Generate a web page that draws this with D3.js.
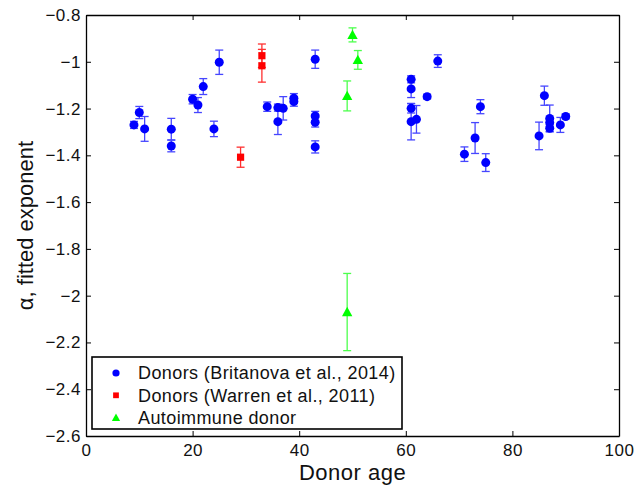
<!DOCTYPE html>
<html>
<head>
<meta charset="utf-8">
<script src="https://cdn.jsdelivr.net/npm/d3@7"></script>
<style>
  body { margin: 0; background: #fff; }
  text { font-family: "Liberation Sans", Arial, Helvetica, sans-serif; }
</style>
</head>
<body>
<div id="scatter"></div>
<script>
//donors from Britanova et al., 2014
var britanovaAge = [9, 10, 11, 16, 16, 20, 21, 22, 24, 25, 34, 36, 36, 37, 39, 39, 43, 43, 43, 43,
    61, 61, 61, 61, 62, 64, 66, 71, 73, 74, 75, 85, 86, 87, 87, 87, 89, 90];
var britanovaAlpha = [-1.27, -1.217, -1.287, -1.288, -1.36, -1.16, -1.185, -1.106, -1.287, -1.002,
    -1.192, -1.196, -1.256, -1.199, -1.156, -1.17, -0.989, -1.232, -1.259, -1.364,
    -1.075, -1.116, -1.199, -1.256, -1.246, -1.149, -0.997, -1.395, -1.326, -1.192, -1.431,
    -1.317, -1.145, -1.242, -1.26, -1.284, -1.27, -1.234];
var britanovaErr = [0.015, 0.026, 0.053, 0.046, 0.025, 0.02, 0.032, 0.034, 0.033, 0.052,
    0.02, 0.015, 0.055, 0.05, 0.02, 0.02, 0.039, 0.02, 0.02, 0.026,
    0.015, 0.037, 0.02, 0.078, 0.059, 0.01, 0.027, 0.031, 0.066, 0.03, 0.038,
    0.059, 0.041, 0.057, 0.015, 0.015, 0.032, 0.01];

//donors from Warren et al., 2011
var warrenAge = [29, 33, 33];
var warrenAlpha = [-1.408, -0.974, -1.017];
var warrenErr = [0.043, 0.05, 0.07];

//autoimmune donor
var autoAge = [49, 50, 51, 49];
var autoAlpha = [-1.146, -0.885, -0.992, -2.07];
var autoErr = [0.064, 0.03, 0.04, 0.165];

//axis ticks
var xTicks = [0, 20, 40, 60, 80, 100];
var yTicks = [-0.8, -1, -1.2, -1.4, -1.6, -1.8, -2, -2.2, -2.4, -2.6];
var yTickLabels = ["\u22120.8", "\u22121", "\u22121.2", "\u22121.4", "\u22121.6", "\u22121.8",
    "\u22122", "\u22122.2", "\u22122.4", "\u22122.6"];

var legendLabels = ["Donors (Britanova et al., 2014)", "Donors (Warren et al., 2011)", "Autoimmune donor"];

//svg dimensions
var svgWidth = 643;
var svgHeight = 486;

var margin = { top: 15, right: 24, bottom: 50, left: 86 };

const width = svgWidth - margin.left - margin.right;
const height = svgHeight - margin.top - margin.bottom;

const svg = d3.select("#scatter")
    .append("svg")
    .attr("width", svgWidth)
    .attr("height", svgHeight);

const chartGroup = svg.append("g")
    .attr("transform", `translate(${margin.left}, ${margin.top})`);

//scales
var xScale = d3.scaleLinear().domain([0, 100]).range([0, width]);
var yScale = d3.scaleLinear().domain([-2.6, -0.8]).range([height, 0]);

//zip the arrays into point objects
function makePoints(ages, alphas, errs) {
    return ages.map((a, i) => ({ age: a, alpha: alphas[i], err: errs[i] }));
}

var series = [
    { name: "britanova", color: "#0000ff", barColor: "#4646ff", points: makePoints(britanovaAge, britanovaAlpha, britanovaErr) },
    { name: "warren", color: "#ff0000", barColor: "#ff3030", points: makePoints(warrenAge, warrenAlpha, warrenErr) },
    { name: "auto", color: "#00ff00", barColor: "#4cff4c", points: makePoints(autoAge, autoAlpha, autoErr) }
];

//draw a marker shape for a series
function drawMarker(sel, name, color, size) {
    if (name === "britanova") {
        sel.append("circle").attr("r", size).attr("fill", color);
    } else if (name === "warren") {
        sel.append("rect")
            .attr("x", -size * 0.8).attr("y", -size * 0.8)
            .attr("width", size * 1.6).attr("height", size * 1.6)
            .attr("fill", color);
    } else {
        var s = size * 1.15;
        sel.append("path")
            .attr("d", `M0,${-s} L${s},${s * 0.8} L${-s},${s * 0.8} Z`)
            .attr("fill", color);
    }
}

var capHalf = 4;

series.forEach(function(s) {
    var g = chartGroup.append("g").classed(s.name, true);

    //error bars
    var bars = g.selectAll(".errbar")
        .data(s.points)
        .enter()
        .append("g")
        .attr("stroke", s.barColor)
        .attr("stroke-width", 1.3);

    bars.append("line")
        .attr("x1", d => xScale(d.age)).attr("x2", d => xScale(d.age))
        .attr("y1", d => yScale(d.alpha + d.err)).attr("y2", d => yScale(d.alpha - d.err));
    bars.append("line")
        .attr("x1", d => xScale(d.age) - capHalf).attr("x2", d => xScale(d.age) + capHalf)
        .attr("y1", d => yScale(d.alpha + d.err)).attr("y2", d => yScale(d.alpha + d.err));
    bars.append("line")
        .attr("x1", d => xScale(d.age) - capHalf).attr("x2", d => xScale(d.age) + capHalf)
        .attr("y1", d => yScale(d.alpha - d.err)).attr("y2", d => yScale(d.alpha - d.err));

    //markers
    g.selectAll(".marker")
        .data(s.points)
        .enter()
        .append("g")
        .attr("transform", d => `translate(${xScale(d.age)}, ${yScale(d.alpha)})`)
        .each(function() { drawMarker(d3.select(this), s.name, s.color, 4.5); });
});

//axes with inward ticks on all four sides
var tickLen = 5;
var bottomAxis = d3.axisBottom(xScale).tickValues(xTicks).tickSizeInner(-tickLen).tickSizeOuter(0).tickPadding(8);
var topAxis = d3.axisTop(xScale).tickValues(xTicks).tickSizeInner(-tickLen).tickSizeOuter(0).tickFormat("");
var leftAxis = d3.axisLeft(yScale).tickValues(yTicks).tickSizeInner(-tickLen).tickSizeOuter(0).tickPadding(5)
    .tickFormat((d, i) => yTickLabels[i]);
var rightAxis = d3.axisRight(yScale).tickValues(yTicks).tickSizeInner(-tickLen).tickSizeOuter(0).tickFormat("");

var axisGroups = [
    chartGroup.append("g").attr("transform", `translate(0, ${height})`).call(bottomAxis),
    chartGroup.append("g").call(topAxis),
    chartGroup.append("g").call(leftAxis),
    chartGroup.append("g").attr("transform", `translate(${width}, 0)`).call(rightAxis)
];

axisGroups.forEach(function(ax) {
    ax.select(".domain").attr("stroke", "#000").attr("stroke-width", 1.3);
    ax.selectAll(".tick line").attr("stroke", "#000").attr("stroke-width", 1);
    ax.selectAll(".tick text")
        .attr("fill", "#111")
        .attr("font-size", "17px")
        .attr("letter-spacing", "0.5px")
        .attr("font-family", "'Liberation Sans', Arial, sans-serif");
});

//axis labels
chartGroup.append("text")
    .attr("x", width / 2)
    .attr("y", height + 44)
    .attr("text-anchor", "middle")
    .attr("font-size", "22px")
    .attr("letter-spacing", "0.5px")
    .attr("fill", "#111")
    .text("Donor age");

chartGroup.append("text")
    .attr("transform", "rotate(-90)")
    .attr("x", -height / 2)
    .attr("y", -margin.left + 33)
    .attr("text-anchor", "middle")
    .attr("font-size", "22px")
    .attr("fill", "#111")
    .text("\u03b1, fitted exponent");

//legend
var legend = svg.append("g").attr("transform", "translate(92, 357)");

legend.append("rect")
    .attr("width", 310)
    .attr("height", 72)
    .attr("fill", "#fff")
    .attr("stroke", "#000")
    .attr("stroke-width", 1.6);

legendLabels.forEach(function(label, i) {
    var row = legend.append("g").attr("transform", `translate(0, ${16 + i * 22.3})`);
    var m = row.append("g").attr("transform", "translate(24, 0)");
    drawMarker(m, series[i].name, series[i].color, 3.6);
    row.append("text")
        .attr("x", 46)
        .attr("y", 0)
        .attr("dy", "0.36em")
        .attr("font-size", "18px")
        .attr("letter-spacing", "0.4px")
        .attr("fill", "#111")
        .text(label);
});
</script>
</body>
</html>
